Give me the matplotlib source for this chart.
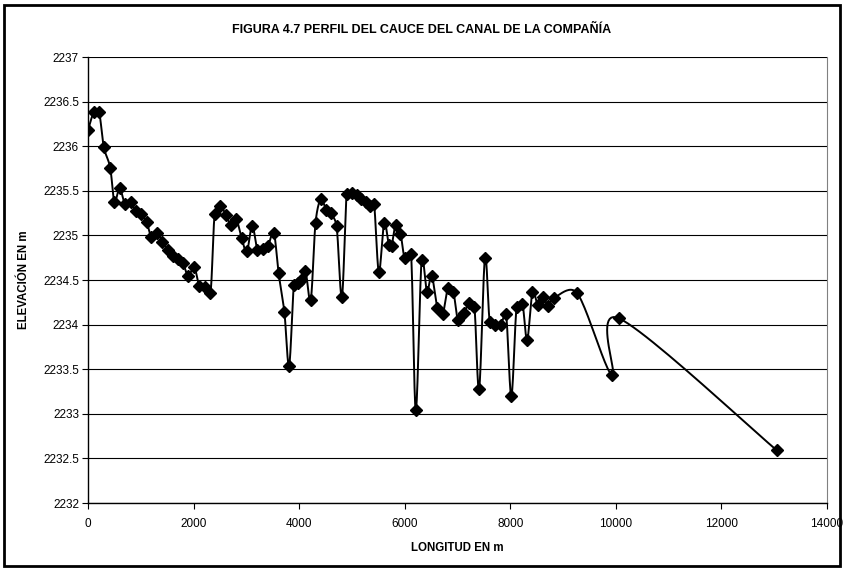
import numpy as np
from matplotlib import pyplot as plt
from matplotlib.patches import Rectangle

# datos del perfil (longitud en m, elevación en m)
longitud = [
    0, 110, 210, 300, 420, 500, 600, 700, 810, 900,
    1000, 1110, 1200, 1310, 1410, 1510, 1610, 1710, 1800, 1900,
    2010, 2110, 2210, 2320, 2400, 2510, 2610, 2710, 2810, 2910,
    3010, 3110, 3210, 3310, 3410, 3520, 3610, 3720, 3810, 3900,
    3980, 4030, 4120, 4220, 4310, 4410, 4510, 4600, 4710, 4810,
    4900, 5000, 5090, 5180, 5260, 5340, 5420, 5510, 5610, 5700,
    5750, 5830, 5920, 6000, 6120, 6210, 6320, 6420, 6510, 6620,
    6720, 6820, 6920, 7010, 7120, 7220, 7320, 7410, 7520, 7610,
    7710, 7820, 7920, 8020, 8120, 8230, 8320, 8420, 8520, 8620,
    8720, 8830, 9270, 9930, 10060, 13050,
]
elevacion = [
    2236.18, 2236.38, 2236.38, 2235.99, 2235.76, 2235.38, 2235.53, 2235.35, 2235.38, 2235.27,
    2235.24, 2235.15, 2234.98, 2235.03, 2234.93, 2234.84, 2234.77, 2234.73, 2234.69, 2234.54,
    2234.65, 2234.43, 2234.42, 2234.35, 2235.24, 2235.33, 2235.23, 2235.12, 2235.18, 2234.97,
    2234.82, 2235.11, 2234.84, 2234.85, 2234.88, 2235.03, 2234.58, 2234.14, 2233.54, 2234.44,
    2234.47, 2234.50, 2234.60, 2234.28, 2235.14, 2235.41, 2235.29, 2235.25, 2235.10, 2234.31,
    2235.46, 2235.47, 2235.45, 2235.41, 2235.37, 2235.33, 2235.35, 2234.59, 2235.14, 2234.89,
    2234.88, 2235.12, 2235.02, 2234.75, 2234.79, 2233.04, 2234.72, 2234.37, 2234.55, 2234.19,
    2234.12, 2234.41, 2234.37, 2234.05, 2234.13, 2234.24, 2234.20, 2233.28, 2234.75, 2234.03,
    2233.99, 2234.00, 2234.12, 2233.20, 2234.20, 2234.23, 2233.83, 2234.37, 2234.22, 2234.31,
    2234.21, 2234.30, 2234.35, 2233.43, 2234.07, 2232.59,
]
assert len(longitud) == len(elevacion)

x_ticks = [0, 2000, 4000, 6000, 8000, 10000, 12000, 14000]
y_ticks = [2232, 2232.5, 2233, 2233.5, 2234, 2234.5, 2235, 2235.5, 2236, 2236.5, 2237]

TITULO = "FIGURA 4.7 PERFIL DEL CAUCE DEL CANAL DE LA COMPAÑÍA"
X_LIM = (0, 14000)
Y_LIM = (2232, 2237)


def suavizar(x, y, sx, sy, n=24):
    """Línea suavizada al estilo Excel: Bezier con tangentes Catmull-Rom,
    calculada en píxeles y limitada a media longitud de cada tramo."""
    p = np.column_stack([np.asarray(x) * sx, np.asarray(y) * sy]).astype(float)
    ext = np.vstack([p[0], p, p[-1]])
    t = np.linspace(0, 1, n)[:, None]
    tramos = []
    for i in range(len(p) - 1):
        p0, p1, p2, p3 = ext[i], ext[i + 1], ext[i + 2], ext[i + 3]
        d12 = np.linalg.norm(p2 - p1)
        v1 = (p2 - p0) / 6
        v2 = (p3 - p1) / 6
        for v in (v1, v2):
            largo = np.linalg.norm(v)
            if largo > d12 / 2 and largo > 0:
                v *= (d12 / 2) / largo
        c1 = p1 + v1
        c2 = p2 - v2
        seg = ((1 - t) ** 3) * p1 + 3 * ((1 - t) ** 2) * t * c1 + 3 * (1 - t) * t ** 2 * c2 + t ** 3 * p2
        tramos.append(seg if i == 0 else seg[1:])
    curva = np.vstack(tramos)
    return curva[:, 0] / sx, curva[:, 1] / sy


plt.rcParams["font.family"] = ["Liberation Sans", "DejaVu Sans"]

W, H = 845, 571
fig = plt.figure(figsize=(W / 100, H / 100), dpi=100)
left, right, top, bottom = 88, 827, 57, 503
ax = fig.add_axes([left / W, 1 - bottom / H, (right - left) / W, (bottom - top) / H])

# marco exterior
fig.patches.append(Rectangle((4 / W, 5 / H), 836 / W, 561 / H, transform=fig.transFigure,
                             fill=False, edgecolor="black", linewidth=2.0))

sx = (right - left) / (X_LIM[1] - X_LIM[0])
sy = (bottom - top) / (Y_LIM[1] - Y_LIM[0])
xs, ys = suavizar(longitud, elevacion, sx, sy)
ax.plot(xs, ys, color="black", linewidth=1.4, zorder=3)
ax.plot(longitud, elevacion, linestyle="none", marker="D", markersize=6.5,
        color="black", zorder=4)

ax.set_xlim(*X_LIM)
ax.set_ylim(*Y_LIM)
ax.set_xticks(x_ticks)
ax.set_yticks(y_ticks)
ax.set_xticklabels([str(v) for v in x_ticks])
ax.set_yticklabels([f"{v:g}" for v in y_ticks])
ax.tick_params(direction="out", length=4.5, width=0.8, labelsize=8.5)
ax.tick_params(axis="x", pad=6)
ax.tick_params(axis="y", pad=2)
ax.grid(axis="y", color="black", linewidth=0.8)
ax.set_axisbelow(True)

ax.spines["top"].set_visible(False)
ax.spines["right"].set_color("#808080")
ax.spines["left"].set_linewidth(1.0)
ax.spines["bottom"].set_linewidth(1.0)

fig.text(457 / W, 1 - 548 / H, "LONGITUD EN m", ha="center", va="center",
         fontsize=8.3, fontweight="bold")
fig.text(24 / W, 1 - 280 / H, "ELEVACIÓN EN m", ha="center", va="center", rotation=90,
         fontsize=8.3, fontweight="bold")
fig.text(422 / W, 1 - 30 / H, TITULO, ha="center", va="center", fontsize=9, fontweight="bold")

fig.savefig("out.png", dpi=100)
